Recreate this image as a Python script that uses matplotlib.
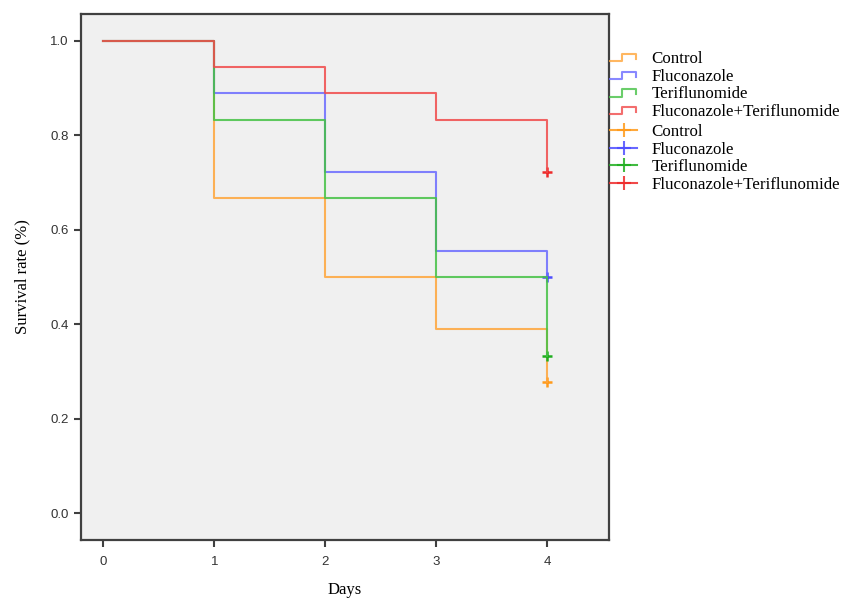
import matplotlib
matplotlib.use("Agg")
import matplotlib.pyplot as plt
from matplotlib.lines import Line2D
from matplotlib.legend_handler import HandlerBase

days = [0, 1, 2, 3, 4]
groups = ["Control", "Fluconazole", "Teriflunomide", "Fluconazole+Teriflunomide"]
control = [1.0, 12/18, 9/18, 7/18, 5/18]
fluconazole = [1.0, 16/18, 13/18, 10/18, 9/18]
teriflunomide = [1.0, 15/18, 12/18, 9/18, 6/18]
combo = [1.0, 17/18, 16/18, 15/18, 13/18]
series = [control, fluconazole, teriflunomide, combo]
line_colors = ["#ffa53a", "#6b6bff", "#45c145", "#f04a4a"]
censor_colors = ["#ff9a1a", "#4d4dff", "#1fae1f", "#ee2a2a"]
xticks = [0, 1, 2, 3, 4]
yticks = [0.0, 0.2, 0.4, 0.6, 0.8, 1.0]

fig = plt.figure(figsize=(8.44, 6.0), dpi=100)
ax = fig.add_axes([80.5/844, 1-540/600, (609-80.5)/844, (540-14)/600])
ax.set_facecolor("#f0f0f0")

z = 2
for vals, lc, cc in zip(series, line_colors, censor_colors):
    ax.plot([days[-1]], [vals[-1]], marker="+", ms=7, mew=1.8, color=cc, ls="none", zorder=z)
    ax.step(days, vals, where="post", color=lc, lw=1.5, alpha=0.85, zorder=z + 0.5)
    z += 1

ax.set_xlim(-0.207, 4.56)
ax.set_ylim(-0.057, 1.057)
ax.set_xticks(xticks)
ax.set_xticklabels([str(t) for t in xticks])
ax.set_yticks(yticks)
ax.set_yticklabels([f"{t:.1f}" for t in yticks])
for s in ax.spines.values():
    s.set_color("#404040")
    s.set_linewidth(1.6)
ax.tick_params(direction="out", length=5, width=1.5, color="#404040",
               labelsize=9.5, labelcolor="#333333")
ax.tick_params(axis="x", pad=6.5)
for lab in ax.get_xticklabels() + ax.get_yticklabels():
    lab.set_family("Liberation Sans")
ax.set_xlabel("Days", family="Liberation Serif", fontsize=12, labelpad=10)
ax.set_ylabel("Survival rate (%)", family="Liberation Serif", fontsize=12, labelpad=14)


class StepHandler(HandlerBase):
    def create_artists(self, legend, orig_handle, xdescent, ydescent, width,
                       height, fontsize, trans):
        x0 = -xdescent
        y0 = -ydescent
        xs = [x0, x0 + 0.45*width, x0 + 0.45*width, x0 + 0.97*width, x0 + 0.97*width]
        ys = [y0 + 0.15*height, y0 + 0.15*height, y0 + 0.75*height, y0 + 0.75*height, y0 + 0.35*height]
        l = Line2D(xs, ys, color=orig_handle.get_color(), lw=1.5, alpha=0.8,
                   transform=trans)
        return [l]


step_handles = [Line2D([], [], color=c) for c in line_colors]
cens_handles = [Line2D([], [], color=c, lw=1.5, alpha=0.85, marker="+", ms=10, mew=1.5)
                for c in censor_colors]
hmap = {h: StepHandler() for h in step_handles}
common = dict(loc="upper left", frameon=False,
              prop={"family": "Liberation Serif", "size": 12.2},
              handlelength=1.6, handletextpad=0.85, labelspacing=0.1,
              borderaxespad=0, borderpad=0)
leg1 = fig.legend(step_handles, groups, bbox_to_anchor=(610/844, 1-51/600),
                  handler_map=hmap, **common)
leg2 = fig.legend(cens_handles, groups, bbox_to_anchor=(610/844, 1-124/600), **common)

fig.savefig("out.png", dpi=100, facecolor="white")
